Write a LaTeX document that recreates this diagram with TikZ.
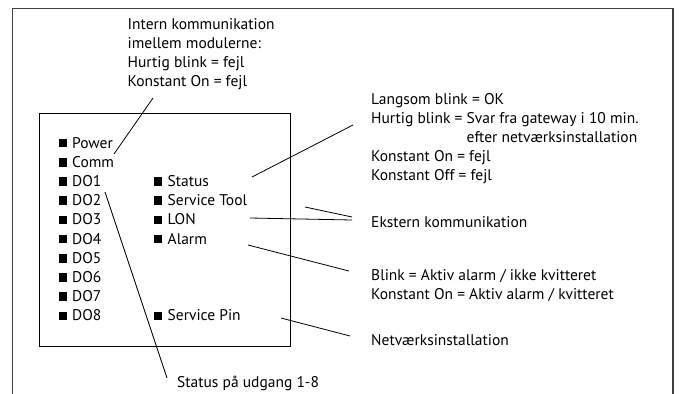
\documentclass[tikz,border=0pt]{standalone}
\usepackage{fontspec}
\setmainfont{PT Sans}
\begin{document}
\begin{tikzpicture}[x=1pt,y=-1pt,
  txt/.style={anchor=base west,inner sep=0pt,font=\fontsize{15.5}{19.2}\selectfont},
  led/.style={fill=black,minimum size=8.6pt,inner sep=0pt},
  lead/.style={line width=0.8pt},
]
\useasboundingbox (0,0) rectangle (681,394);
% outer frame
\draw[line width=1.3pt,black!75] (12.5,394) -- (12.5,8.5) -- (673,8.5) -- (673,394);
% inner box
\node[draw,line width=1pt,minimum width=251pt,minimum height=233pt,anchor=north west,inner sep=0pt] (box) at (38.5,113) {};
% left LED column
\foreach \n/\t [count=\i from 0] in {pw/Power,cm/Comm,d1/DO1,d2/DO2,d3/DO3,d4/DO4,d5/DO5,d6/DO6,d7/DO7,d8/DO8}{
  \node[led] (s\n) at (63,143+19.2*\i) {};
  \node[txt] (\n) at (72,148+19.2*\i) {\t};
}
% right LED column
\foreach \n/\t/\yy in {st/Status/186.4,sv/Service Tool/205.6,lon/LON/224.8,al/Alarm/244,sp/Service Pin/320.8}{
  \node[led] (s\n) at (157.8,\yy-5) {};
  \node[txt] (\n) at (167.5,\yy) {\t};
}
% texts
\node[txt] (in1) at (127.5,29.5) {Intern kommunikation};
\node[txt] (in2) at (127.5,48.5) {imellem modulerne:};
\node[txt] (in3) at (127.5,67.5) {Hurtig blink = fejl};
\node[txt] (in4) at (127.5,86.5) {Konstant On = fejl};
\node[txt] (la1) at (371,104) {Langsom blink = OK};
\node[txt] (la2) at (371,123) {Hurtig blink = Svar fra gateway i 10 min.};
\node[txt] (la3) at (371,142) {\hphantom{Hurtig blink =\ }efter netværksinstallation};
\node[txt] (la4) at (371,161) {Konstant On = fejl};
\node[txt] (la5) at (371,180) {Konstant Off = fejl};
\node[txt] (ekst) at (371,227) {Ekstern kommunikation};
\node[txt] (bl1) at (371,280.5) {Blink = Aktiv alarm / ikke kvitteret};
\node[txt] (bl2) at (371,299.5) {Konstant On = Aktiv alarm / kvitteret};
\node[txt] (netv) at (371,345.5) {Netværksinstallation};
\node[txt] (stat) at (177,387) {Status på udgang 1-8};
% leader coordinates
\coordinate (a1) at (153,98);  \coordinate (a2) at (114,154);
\coordinate (b1) at (252,177); \coordinate (b2) at (353,125);
\coordinate (c1) at (305,207); \coordinate (c2) at (352,217);
\coordinate (c3) at (250,218); \coordinate (c4) at (352,220);
\coordinate (e1) at (248,245); \coordinate (e2) at (349,271);
\coordinate (f1) at (281,318); \coordinate (f2) at (350,336);
\coordinate (g1) at (105,192); \coordinate (g2) at (167,378);
\draw[lead] (a1) -- (a2);
\draw[lead] (b1) -- (b2);
\draw[lead] (c1) -- (c2);
\draw[lead] (c3) -- (c4);
\draw[lead] (e1) -- (e2);
\draw[lead] (f1) -- (f2);
\draw[lead] (g1) -- (g2);
\end{tikzpicture}
\end{document}
